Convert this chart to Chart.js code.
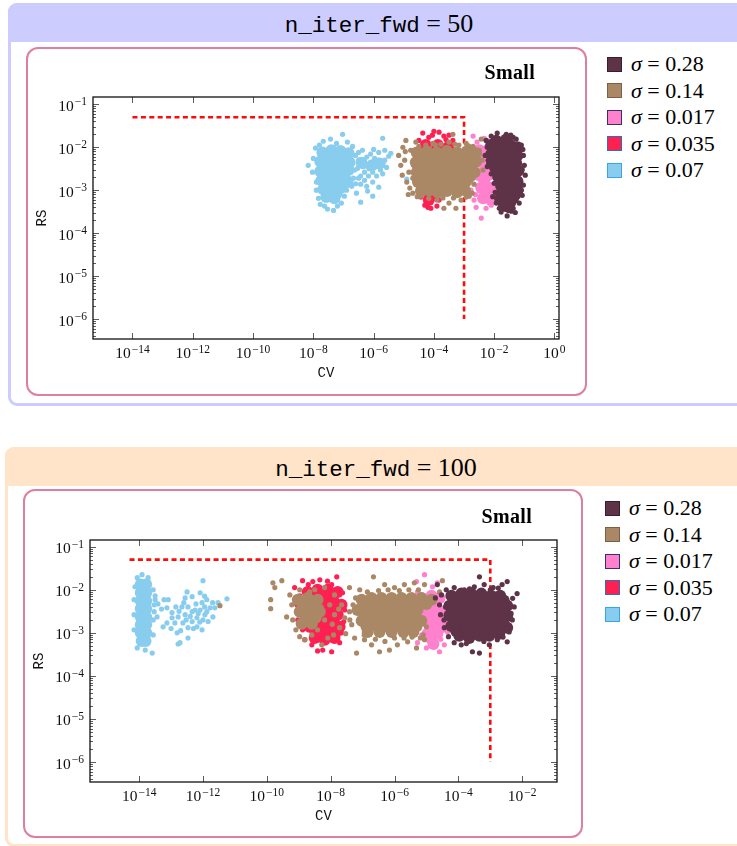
<!DOCTYPE html>
<html lang="en">
<head>
<meta charset="utf-8">
<title>RS vs CV</title>
<script src="https://cdn.jsdelivr.net/npm/chart.js@4.4.1/dist/chart.umd.min.js"></script>
<style>
  html, body { margin: 0; padding: 0; background: #fff; }
  body { position: relative; width: 737px; height: 846px; overflow: hidden; font-family: "Liberation Serif", "DejaVu Serif", serif; color: #000; }
  .frame { position: absolute; box-sizing: border-box; border: 3px solid; border-radius: 9px; width: 742px; }
  .frame .head { position: absolute; left: -3px; right: -3px; top: -3px; height: 39px; border-radius: 9px 9px 0 0; text-align: center; font-size: 26px; line-height: 41px; }
  .tt { font-family: "Liberation Mono", "DejaVu Sans Mono", monospace; font-size: 22.5px; }
  .eq { margin: 0 0.25em; }
  .inner { position: absolute; box-sizing: border-box; border: 2.5px solid #df7f9f; border-radius: 12px; }
  canvas { position: absolute; }
  .tag { position: absolute; width: 100px; text-align: right; font-weight: bold; font-size: 20px; letter-spacing: 0.3px; line-height: 20px; }
  .legend { position: absolute; font-size: 22px; }
  .legend .item { height: 26.5px; display: flex; align-items: center; white-space: nowrap; }
  .legend .sw { display: inline-block; box-sizing: border-box; width: 15px; height: 15px; border: 1.5px solid; margin-right: 9px; }
</style>
</head>
<body>

<div class="frame" style="left:8px;top:3px;height:403px;border-color:#ccccff">
  <div class="head" style="background:#ccccff"><span class="tt">n_iter_fwd</span><span class="eq">=</span><span id="iterA"></span></div>
</div>
<div class="inner" style="left:26px;top:47px;width:561px;height:349px"></div>
<canvas id="chartA" width="550" height="340" style="left:30px;top:52px"></canvas>
<div class="tag" id="tagA" style="left:435px;top:62px"></div>
<div class="legend" id="legendA" style="left:607px;top:51px"></div>

<div class="frame" style="left:5px;top:447px;height:400px;border-color:#ffe4c9">
  <div class="head" style="background:#ffe4c9"><span class="tt">n_iter_fwd</span><span class="eq">=</span><span id="iterB"></span></div>
</div>
<div class="inner" style="left:23px;top:489px;width:560px;height:349px"></div>
<canvas id="chartB" width="550" height="340" style="left:27px;top:494px"></canvas>
<div class="tag" id="tagB" style="left:432px;top:506px"></div>
<div class="legend" id="legendB" style="left:605px;top:495px"></div>

<script>
// noise levels, in legend order (first one is drawn on top)
const sigmas = ['0.28', '0.14', '0.017', '0.035', '0.07'];
const sigmaFill = ['#5e3347', '#aa8866', '#ff80cc', '#ff2052', '#88ccee'];
const sigmaEdge = ['#3a1e2c', '#7d5f45', '#36306e', '#2f6fb5', '#36a6e6'];

const iterCounts = [50, 100];
const sizeTag = 'Small';
const xTitle = 'CV';
const yTitle = 'RS';

// axis ticks, as powers of ten
const xTicksA = [-14, -12, -10, -8, -6, -4, -2, 0];
const xTicksB = [-14, -12, -10, -8, -6, -4, -2];
const yTicks = [-6, -5, -4, -3, -2, -1];

// acceptance limit (dashed)
const limitCvA = [1e-14, 1e-3, 1e-3];
const limitRsA = [0.05, 0.05, 1e-6];
const limitCvB = [5e-15, 1e-3, 1e-3];
const limitRsB = [0.05, 0.05, 1e-6];

// runs as [log10 CV, log10 RS]; "dense" entries stand for the packed middle of each cloud
// n_iter_fwd = 50
const a028Dense = [[-2.10,-1.95],[-1.77,-1.91],[-1.47,-1.95],[-1.23,-2.00],[-2.10,-2.16],[-1.83,-2.16],[-1.53,-2.16],[-1.23,-2.19],
  [-2.07,-2.37],[-1.83,-2.37],[-1.57,-2.37],[-1.27,-2.37],[-1.90,-2.58],[-1.60,-2.58],[-1.30,-2.58],[-1.20,-2.55],
  [-1.80,-2.79],[-1.50,-2.79],[-1.23,-2.79],[-1.73,-3.00],[-1.43,-3.00],[-1.23,-3.00],[-1.80,-3.21],[-1.57,-3.21],[-1.37,-3.19],[-1.63,-3.37],
  [-1.95,-2.06],[-1.65,-2.06],[-1.37,-2.06],[-1.95,-2.27],[-1.67,-2.27],[-1.40,-2.27],[-1.97,-2.48],[-1.70,-2.48],[-1.43,-2.48],
  [-1.87,-2.69],[-1.65,-2.69],[-1.37,-2.69],[-1.77,-2.90],[-1.47,-2.90],[-1.33,-2.90],[-1.77,-3.10],[-1.50,-3.10],[-1.30,-3.10],
  [-1.70,-3.29],[-1.47,-3.29],[-1.93,-1.85],[-1.60,-1.82]];
const a028Loose = [[-2.27,-1.84],[-2.10,-1.74],[-1.90,-1.67],[-1.60,-1.70],[-1.37,-1.77],[-1.27,-1.81],[-1.10,-1.95],[-1.03,-2.19],
  [-1.00,-2.42],[-0.97,-2.65],[-1.03,-2.88],[-1.07,-3.12],[-1.17,-3.30],[-1.37,-3.42],[-1.57,-3.60],[-1.83,-3.42],[-1.93,-3.30],
  [-1.97,-3.05],[-2.00,-2.84],[-2.10,-2.62],[-2.23,-2.45],[-2.30,-2.19],[-2.23,-2.00],[-1.43,-3.49],[-1.77,-3.51],
  [-1.05,-2.05],[-1.07,-2.52],[-1.10,-3.00],[-1.30,-3.52],[-1.53,-3.47],[-2.05,-3.15],[-2.20,-2.30],[-1.45,-1.72]];
const a014Dense = [[-4.57,-2.12],[-4.23,-2.10],[-3.90,-2.12],[-3.57,-2.09],[-3.23,-2.12],[-2.90,-2.10],[-2.60,-2.14],
  [-4.60,-2.35],[-4.23,-2.37],[-3.90,-2.33],[-3.57,-2.35],[-3.23,-2.37],[-2.90,-2.35],[-2.60,-2.33],
  [-4.57,-2.58],[-4.25,-2.58],[-3.90,-2.60],[-3.55,-2.58],[-3.23,-2.56],[-2.90,-2.58],[-2.65,-2.58],
  [-4.53,-2.81],[-4.23,-2.81],[-3.90,-2.79],[-3.57,-2.83],[-3.23,-2.81],[-2.93,-2.79],
  [-4.43,-3.02],[-4.17,-3.00],[-3.87,-3.05],[-3.57,-3.02],[-3.23,-3.05],[-2.97,-3.00],
  [-4.40,-2.23],[-4.07,-2.23],[-3.73,-2.21],[-3.40,-2.23],[-3.07,-2.23],[-2.75,-2.23],
  [-4.40,-2.47],[-4.07,-2.47],[-3.73,-2.47],[-3.40,-2.45],[-3.07,-2.47],[-2.75,-2.47],
  [-4.40,-2.70],[-4.07,-2.70],[-3.73,-2.70],[-3.40,-2.70],[-3.07,-2.70],[-2.80,-2.68],
  [-4.30,-2.92],[-4.05,-2.92],[-3.73,-2.92],[-3.40,-2.92],[-3.10,-2.92]];
const a014Loose = [[-5.17,-2.19],[-5.10,-2.42],[-5.03,-2.00],[-4.93,-1.84],[-4.83,-2.58],[-4.90,-2.81],[-4.97,-2.30],[-4.77,-2.07],
  [-4.80,-2.95],[-4.70,-2.72],[-4.70,-3.07],[-4.60,-1.88],[-4.50,-1.98],[-4.27,-1.95],[-4.03,-1.91],[-3.77,-1.93],[-3.50,-1.88],
  [-3.37,-1.70],[-3.17,-1.95],[-2.93,-1.91],[-2.70,-1.98],[-2.43,-1.81],[-2.50,-2.07],[-2.40,-2.30],[-2.37,-2.53],[-2.67,-2.86],
  [-2.73,-3.07],[-4.43,-3.14],[-4.17,-3.19],[-3.90,-3.23],[-3.67,-3.42],[-3.50,-3.30],[-3.27,-3.42],[-3.10,-3.23],[-2.83,-3.14],
  [-2.93,-3.16],[-4.10,-3.07],[-3.03,-3.05],[-5.05,-2.65],[-4.95,-2.10],[-4.85,-3.10],[-3.95,-1.95],[-3.30,-1.93],[-2.85,-1.97],
  [-3.70,-3.18],[-3.35,-3.18],[-4.55,-3.15]];
const a0017Dense = [[-2.50,-2.07],[-2.23,-2.07],[-2.43,-2.35],[-2.17,-2.35],[-2.50,-2.65],[-2.20,-2.65],[-2.43,-2.95],[-2.13,-2.95],[-2.37,-3.19],[-2.10,-3.23],
  [-2.35,-2.21],[-2.30,-2.50],[-2.33,-2.80],[-2.28,-3.08]];
const a0017Loose = [[-2.70,-1.74],[-2.33,-1.79],[-2.57,-1.88],[-2.83,-2.72],[-2.77,-3.00],[-2.67,-3.23],[-2.60,-3.40],[-2.43,-3.65],
  [-2.27,-3.42],[-2.10,-3.35],[-1.93,-3.14],[-2.00,-2.88],[-2.62,-3.10],[-2.55,-2.90],[-2.20,-1.85]];
const a0035Dense = [[-4.27,-1.95],[-3.87,-1.95],[-3.53,-2.00],[-4.37,-2.30],[-3.93,-2.30],[-3.53,-2.30],[-4.43,-2.65],[-4.03,-2.65],
  [-3.63,-2.65],[-4.30,-3.00],[-3.97,-3.05],[-4.17,-3.23],
  [-4.07,-2.12],[-3.72,-2.14],[-4.15,-2.47],[-3.75,-2.47],[-4.23,-2.83],[-3.83,-2.85],[-4.10,-3.14]];
const a0035Loose = [[-4.50,-1.84],[-4.37,-1.67],[-4.17,-1.77],[-4.00,-1.63],[-3.83,-1.65],[-3.67,-1.74],[-3.50,-1.72],[-3.37,-1.84],
  [-4.63,-2.07],[-4.67,-2.42],[-4.60,-2.77],[-4.50,-2.95],[-4.43,-3.16],[-4.30,-3.35],[-4.10,-3.42],[-3.90,-3.37],[-3.83,-3.23],
  [-3.77,-3.09],[-4.57,-2.58],[-4.05,-1.72],[-3.60,-1.82],[-4.20,-3.40]];
const a007Dense = [[-7.70,-2.12],[-7.40,-2.07],[-7.10,-2.09],[-6.83,-2.14],[-7.77,-2.33],[-7.43,-2.35],[-7.10,-2.30],[-6.80,-2.35],
  [-7.77,-2.56],[-7.47,-2.53],[-7.13,-2.56],[-6.83,-2.53],[-7.73,-2.77],[-7.43,-2.77],[-7.13,-2.74],[-6.87,-2.79],
  [-7.67,-2.98],[-7.40,-3.00],[-7.10,-2.95],[-7.57,-3.16],[-7.30,-3.19],
  [-7.57,-2.22],[-7.27,-2.22],[-6.97,-2.22],[-7.60,-2.44],[-7.27,-2.44],[-6.97,-2.44],[-7.60,-2.66],[-7.30,-2.66],[-7.00,-2.66],
  [-7.57,-2.87],[-7.27,-2.87],[-6.99,-2.87],[-7.50,-3.08],[-7.23,-3.08],
  [-6.40,-2.36],[-6.05,-2.42],[-5.80,-2.38]];
const a007Loose = [[-8.17,-2.42],[-8.00,-2.26],[-8.03,-2.58],[-7.93,-2.02],[-7.90,-2.81],[-7.90,-3.00],[-7.83,-3.19],[-7.77,-3.33],
  [-7.63,-3.37],[-7.53,-3.44],[-7.33,-3.47],[-7.20,-3.37],[-7.07,-3.30],[-6.97,-3.14],[-6.90,-3.00],[-6.73,-2.91],[-6.67,-2.72],
  [-6.63,-2.53],[-6.60,-2.19],[-6.70,-1.98],[-6.87,-1.88],[-7.03,-1.70],[-7.23,-1.91],[-7.43,-1.81],[-7.67,-1.86],[-7.80,-1.95],
  [-6.50,-2.12],[-6.37,-2.07],[-6.23,-2.23],[-6.10,-2.16],[-5.97,-2.26],[-5.83,-2.12],[-5.70,-1.79],[-5.63,-2.30],[-5.50,-2.21],
  [-5.43,-2.14],[-5.57,-2.47],[-5.77,-2.53],[-5.90,-2.44],[-6.03,-2.58],[-6.17,-2.67],[-6.30,-2.77],[-6.43,-2.67],[-6.53,-2.49],
  [-6.43,-2.86],[-6.23,-2.91],[-6.03,-2.81],[-5.83,-2.93],[-6.03,-3.14],[-6.43,-3.28],[-6.57,-3.07],[-5.77,-2.35],[-5.97,-2.42],
  [-6.23,-2.44],[-6.37,-2.35],[-6.50,-2.30],[-6.10,-2.35],[-6.30,-2.58],[-6.50,-2.72],[-5.63,-2.07],[-5.90,-2.67],[-4.90,-2.74],
  [-6.15,-2.50],[-6.35,-2.45],[-5.85,-2.30],[-6.00,-2.05],[-5.70,-2.62],[-6.60,-2.85],[-6.20,-3.02]];

// n_iter_fwd = 100
const b028Dense = [[-4.22,-2.14],[-3.91,-2.09],[-3.59,-2.09],[-3.28,-2.09],[-2.97,-2.14],[-2.69,-2.14],
  [-4.28,-2.37],[-3.97,-2.37],[-3.66,-2.37],[-3.34,-2.37],[-3.03,-2.37],[-2.72,-2.37],[-2.47,-2.37],
  [-4.28,-2.60],[-3.97,-2.60],[-3.66,-2.60],[-3.34,-2.60],[-3.03,-2.60],[-2.72,-2.60],[-2.47,-2.60],
  [-4.22,-2.84],[-3.91,-2.84],[-3.59,-2.84],[-3.28,-2.84],[-2.97,-2.84],[-2.69,-2.84],[-2.47,-2.88],
  [-3.97,-3.07],[-3.66,-3.12],[-3.34,-3.07],[-3.03,-3.07],[-2.72,-3.02],
  [-4.07,-2.25],[-3.75,-2.25],[-3.44,-2.23],[-3.13,-2.25],[-2.83,-2.25],[-2.58,-2.25],
  [-4.10,-2.48],[-3.81,-2.48],[-3.50,-2.48],[-3.19,-2.48],[-2.88,-2.48],[-2.58,-2.48],
  [-4.10,-2.72],[-3.81,-2.72],[-3.50,-2.72],[-3.19,-2.72],[-2.88,-2.72],[-2.58,-2.72],
  [-4.07,-2.96],[-3.81,-2.96],[-3.50,-2.96],[-3.19,-2.96],[-2.88,-2.96]];
const b028Loose = [[-4.66,-1.88],[-4.53,-2.12],[-4.59,-2.35],[-4.56,-2.58],[-4.44,-2.88],[-4.31,-3.09],[-4.13,-3.23],[-3.91,-3.28],
  [-3.56,-3.44],[-3.34,-3.47],[-3.03,-3.28],[-2.78,-3.16],[-2.47,-3.21],[-2.41,-2.98],[-2.31,-2.70],[-2.25,-2.40],[-2.16,-2.09],
  [-2.47,-1.81],[-2.63,-1.88],[-2.91,-1.95],[-3.19,-1.88],[-3.34,-1.70],[-3.50,-1.93],[-3.81,-2.00],[-4.13,-1.95],[-4.38,-2.00],
  [-4.72,-2.19],[-2.30,-2.20],[-2.35,-2.55],[-2.40,-2.85],[-2.60,-3.10],[-3.20,-3.20],[-3.75,-3.25],[-4.40,-2.40],[-4.45,-2.70],
  [-3.00,-2.00],[-3.65,-1.98],[-2.75,-1.96]];
const b014Dense = [[-9.03,-2.23],[-8.72,-2.19],[-8.41,-2.23],[-8.97,-2.51],[-8.66,-2.51],[-8.34,-2.51],[-8.91,-2.79],[-8.59,-2.79],
  [-7.03,-2.23],[-6.72,-2.19],[-6.41,-2.19],[-6.09,-2.19],[-5.78,-2.19],[-5.47,-2.19],[-5.16,-2.19],[-4.84,-2.23],
  [-7.16,-2.47],[-6.84,-2.47],[-6.53,-2.47],[-6.22,-2.47],[-5.91,-2.47],[-5.59,-2.47],[-5.28,-2.47],
  [-7.03,-2.72],[-6.72,-2.72],[-6.41,-2.72],[-6.09,-2.72],[-5.78,-2.72],[-5.47,-2.72],[-5.16,-2.72],
  [-6.84,-2.98],[-6.47,-2.98],[-6.09,-2.98],[-5.72,-2.98],[-5.41,-2.98],
  [-8.88,-2.37],[-8.56,-2.37],[-8.78,-2.65],[-8.47,-2.65],
  [-6.88,-2.33],[-6.56,-2.33],[-6.25,-2.33],[-5.94,-2.33],[-5.63,-2.33],[-5.31,-2.33],[-5.00,-2.33],
  [-6.94,-2.60],[-6.63,-2.60],[-6.31,-2.60],[-6.00,-2.60],[-5.69,-2.60],[-5.38,-2.60],
  [-6.88,-2.85],[-6.56,-2.85],[-6.25,-2.85],[-5.94,-2.85],[-5.63,-2.85],[-5.31,-2.85]];
const b014Loose = [[-9.81,-1.84],[-9.53,-1.79],[-9.75,-1.95],[-9.88,-2.23],[-9.88,-2.44],[-9.38,-2.63],[-9.28,-2.12],[-9.22,-2.35],
  [-9.19,-2.70],[-9.09,-2.93],[-8.97,-3.09],[-8.81,-3.16],[-8.59,-3.05],[-8.41,-2.93],[-8.19,-2.70],[-8.03,-2.35],[-7.88,-2.58],
  [-7.72,-2.88],[-8.09,-3.12],[-8.28,-3.28],[-8.50,-2.00],[-8.19,-1.95],[-7.88,-2.12],[-7.66,-2.35],[-7.56,-2.65],[-7.41,-2.51],
  [-7.34,-2.81],[-7.41,-1.95],[-7.22,-2.19],[-7.25,-3.12],[-7.19,-3.47],[-6.94,-3.16],[-6.72,-3.28],[-6.47,-3.44],[-6.16,-3.40],
  [-5.91,-3.28],[-5.59,-3.21],[-5.31,-3.35],[-5.06,-3.16],[-6.66,-1.70],[-6.31,-1.88],[-6.00,-1.95],[-5.69,-1.88],[-5.38,-1.84],
  [-5.06,-1.88],[-4.50,-1.79],[-4.59,-2.05],[-5.00,-2.86],[-5.10,-3.05],[-5.19,-3.12],[-7.53,-3.02],[-7.09,-2.00],[-7.91,-3.05],
  [-8.66,-2.05],[-8.97,-2.00],[-11.47,-2.37],[-8.30,-2.40],[-7.95,-2.80],[-7.75,-2.45],[-7.30,-2.35],[-7.40,-2.70],[-6.85,-2.05],
  [-6.50,-2.02],[-6.20,-2.00],[-5.85,-2.02],[-5.55,-2.00],[-5.25,-2.00],[-6.95,-3.05],[-6.60,-3.15],[-6.30,-3.20],[-6.00,-3.12],
  [-5.70,-3.12],[-5.45,-3.10]];
const b0017Dense = [[-5.16,-2.19],[-4.84,-2.14],[-4.59,-2.19],[-5.06,-2.47],[-4.75,-2.47],[-4.50,-2.51],[-5.00,-2.74],[-4.69,-2.74],
  [-4.44,-2.74],[-4.97,-3.02],[-4.66,-3.02],[-4.78,-3.26],
  [-5.00,-2.32],[-4.72,-2.32],[-4.90,-2.60],[-4.60,-2.62],[-4.84,-2.88],[-4.55,-2.88],[-4.85,-3.14]];
const b0017Loose = [[-5.31,-1.81],[-5.06,-1.65],[-4.81,-1.93],[-4.66,-1.84],[-5.28,-3.23],[-5.00,-3.35],[-4.59,-3.44],[-4.44,-3.28],
  [-4.34,-2.98],[-5.44,-2.81],[-5.38,-2.47],[-5.28,-2.05],[-5.15,-3.05],[-4.55,-3.15]];
const b0035Dense = [[-8.72,-2.05],[-8.41,-2.00],[-8.09,-2.00],[-7.78,-2.05],[-8.81,-2.30],[-8.50,-2.30],[-8.19,-2.30],[-7.88,-2.30],
  [-7.66,-2.35],[-8.72,-2.58],[-8.41,-2.58],[-8.09,-2.58],[-7.78,-2.58],[-8.66,-2.86],[-8.34,-2.86],[-8.03,-2.86],[-7.72,-2.86],
  [-8.50,-3.12],[-8.19,-3.16],[-7.88,-3.12],
  [-8.56,-2.17],[-8.25,-2.15],[-7.94,-2.17],[-8.62,-2.44],[-8.30,-2.44],[-7.97,-2.44],[-8.56,-2.72],[-8.25,-2.72],[-7.91,-2.72],
  [-8.47,-2.99],[-8.16,-2.99],[-7.84,-2.99]];
const b0035Loose = [[-9.13,-1.95],[-8.88,-1.79],[-8.56,-1.81],[-8.34,-1.77],[-7.97,-1.88],[-7.81,-1.70],[-7.63,-2.07],[-7.56,-2.47],
  [-7.59,-2.74],[-7.66,-3.00],[-7.72,-3.23],[-7.97,-3.44],[-8.25,-3.40],[-8.41,-3.42],[-8.59,-3.28],[-8.81,-3.16],[-8.88,-2.93],
  [-9.03,-2.70],[-9.06,-2.35],[-8.97,-2.14],[-8.10,-1.80],[-8.70,-1.88]];
const b007Dense = [[-13.95,-1.88],[-13.78,-1.88],[-13.95,-2.07],[-13.78,-2.07],[-13.95,-2.26],[-13.78,-2.26],[-13.95,-2.44],[-13.78,-2.44],
  [-13.95,-2.63],[-13.78,-2.63],[-13.95,-2.81],[-13.78,-2.81],[-13.95,-3.00],[-13.78,-3.00],[-13.92,-3.19],[-13.80,-3.19]];
const b007Loose = [[-14.06,-1.72],[-13.72,-1.72],[-14.13,-1.93],[-13.56,-2.00],[-14.16,-2.23],[-13.53,-2.35],[-14.16,-2.58],[-13.56,-2.70],
  [-14.16,-2.93],[-13.56,-3.05],[-14.06,-3.35],[-13.81,-3.40],[-13.59,-3.47],[-13.53,-2.51],[-13.50,-2.14],[-13.91,-1.65],
  [-12.00,-1.79],[-11.25,-2.21],[-11.69,-2.63],[-12.03,-2.93],[-12.47,-3.12],[-12.78,-3.26],[-12.81,-3.00],[-13.22,-2.23],
  [-13.09,-2.23],[-13.41,-2.33],[-13.44,-2.63],[-13.25,-2.86],[-13.13,-2.77],[-12.56,-2.19],[-12.34,-2.16],[-12.09,-2.07],
  [-11.88,-2.23],[-11.78,-2.42],[-11.63,-2.42],[-12.09,-2.47],[-12.34,-2.51],[-12.56,-2.58],[-12.78,-2.63],[-12.97,-2.65],
  [-12.88,-2.77],[-12.63,-2.77],[-12.34,-2.74],[-12.19,-2.65],[-11.94,-2.58],[-12.03,-2.30],[-12.47,-2.40],[-12.66,-2.40],
  [-12.97,-2.53],[-13.13,-2.42],[-12.00,-2.70],[-12.47,-2.88],[-12.19,-2.86],[-11.88,-2.51],[-11.84,-2.74],[-11.53,-2.30],
  [-12.72,-3.23],[-13.50,-2.23],[-12.22,-2.33],[-12.53,-2.70],[-12.25,-2.47],
  [-12.75,-2.50],[-12.40,-2.62],[-12.15,-2.55],[-11.95,-2.40],[-12.60,-2.30],[-12.85,-2.40],[-12.30,-2.90],[-12.10,-2.75],
  [-11.70,-2.30],[-11.95,-2.15],[-12.50,-2.05],[-13.00,-2.90],[-13.30,-2.45],[-12.70,-2.95]];

const toPoints = pairs => pairs.map(([cv, rs]) => ({ x: 10 ** cv, y: 10 ** rs }));

// frame, inward ticks and 10^n labels, pgfplots style
const frameAxes = {
  id: 'frameAxes',
  afterDraw(chart, args, opts) {
    const { ctx, chartArea: a } = chart;
    const xs = chart.scales.x, ys = chart.scales.y;
    ctx.save();

    ctx.strokeStyle = '#333';
    ctx.lineWidth = 0.8;
    ctx.beginPath();
    for (let k = -8; k <= 0; k++) {
      for (let m = 2; m <= 9; m++) {
        const v = m * 10 ** k;
        if (v <= ys.min || v >= ys.max) continue;
        const py = Math.round(ys.getPixelForValue(v)) + 0.5;
        ctx.moveTo(a.left, py); ctx.lineTo(a.left + 3, py);
        ctx.moveTo(a.right, py); ctx.lineTo(a.right - 3, py);
      }
    }
    yTicks.forEach(e => {
      const py = Math.round(ys.getPixelForValue(10 ** e)) + 0.5;
      ctx.moveTo(a.left, py); ctx.lineTo(a.left + 6, py);
      ctx.moveTo(a.right, py); ctx.lineTo(a.right - 6, py);
    });
    opts.xTicks.forEach(e => {
      const px = Math.round(xs.getPixelForValue(10 ** e)) + 0.5;
      ctx.moveTo(px, a.bottom); ctx.lineTo(px, a.bottom - 6);
      ctx.moveTo(px, a.top); ctx.lineTo(px, a.top + 6);
    });
    ctx.stroke();

    ctx.strokeStyle = '#111';
    ctx.lineWidth = 1.3;
    ctx.strokeRect(a.left, a.top, a.right - a.left, a.bottom - a.top);

    ctx.fillStyle = '#111';
    ctx.textBaseline = 'alphabetic';
    ctx.textAlign = 'left';
    const power = (e, x, y, align) => {
      const sup = e === 0 ? '0' : '\u2212' + Math.abs(e);
      ctx.font = '15.5px "Liberation Serif"';
      const wb = ctx.measureText('10').width;
      ctx.font = '11.5px "Liberation Serif"';
      const ws = ctx.measureText(sup).width;
      const w = wb + 1 + ws;
      const left = align === 'right' ? x - w : x - w / 2;
      ctx.font = '15.5px "Liberation Serif"';
      ctx.fillText('10', left, y);
      ctx.font = '11.5px "Liberation Serif"';
      ctx.fillText(sup, left + wb + 1, y - 5.5);
    };
    yTicks.forEach(e => power(e, a.left - 6, ys.getPixelForValue(10 ** e) + 6.5, 'right'));
    opts.xTicks.forEach(e => power(e, xs.getPixelForValue(10 ** e), a.bottom + 19, 'center'));

    ctx.font = '14px "Liberation Mono"';
    ctx.textAlign = 'center';
    ctx.textBaseline = 'middle';
    ctx.fillText(xTitle, (a.left + a.right) / 2, a.bottom + 34);
    ctx.translate(a.left - 51, (a.top + a.bottom) / 2);
    ctx.rotate(-Math.PI / 2);
    ctx.fillText(yTitle, 0, 0);
    ctx.restore();
  }
};

function drawPanel(canvasId, p) {
  const datasets = [];
  sigmas.forEach((s, i) => {
    datasets.push({ label: 'σ = ' + s, data: toPoints(p.loose[i]), backgroundColor: sigmaFill[i], pointRadius: 2.6 });
    datasets.push({ label: 'σ = ' + s, data: toPoints(p.dense[i]), backgroundColor: sigmaFill[i], pointRadius: 6 });
  });
  datasets.forEach(d => { d.pointBorderWidth = 0; d.pointHoverRadius = d.pointRadius; });
  // limit goes last so it sits under the clouds
  datasets.push({
    type: 'line',
    data: p.limitCv.map((c, i) => ({ x: c, y: p.limitRs[i] })),
    borderColor: '#ff0a0a', borderWidth: 2.6, borderDash: [5, 3.4],
    pointRadius: 0, fill: false, tension: 0
  });

  return new Chart(document.getElementById(canvasId), {
    type: 'scatter',
    data: { datasets },
    options: {
      responsive: false,
      animation: false,
      events: [],
      layout: { padding: { top: p.padTop, right: p.padRight, bottom: 0, left: 0 } },
      plugins: { legend: { display: false }, tooltip: { enabled: false }, frameAxes: { xTicks: p.xTicks } },
      scales: {
        x: {
          type: 'logarithmic', bounds: 'data',
          min: 10 ** p.xRange[0], max: 10 ** p.xRange[1],
          ticks: { display: false }, grid: { display: false }, border: { display: false },
          afterFit: s => { s.height = p.xHeight; }
        },
        y: {
          type: 'logarithmic', bounds: 'data',
          min: 10 ** p.yRange[0], max: 10 ** p.yRange[1],
          ticks: { display: false }, grid: { display: false }, border: { display: false },
          afterFit: s => { s.width = 63; }
        }
      }
    },
    plugins: [frameAxes]
  });
}

function fillLegend(id) {
  const box = document.getElementById(id);
  sigmas.forEach((s, i) => {
    const row = document.createElement('div');
    row.className = 'item';
    row.innerHTML = '<span class="sw" style="background:' + sigmaFill[i] + ';border-color:' + sigmaEdge[i] + '"></span>' +
      '<i>σ</i><span class="eq">=</span>' + s;
    box.appendChild(row);
  });
}

document.getElementById('iterA').textContent = iterCounts[0];
document.getElementById('iterB').textContent = iterCounts[1];
document.getElementById('tagA').textContent = sizeTag;
document.getElementById('tagB').textContent = sizeTag;
fillLegend('legendA');
fillLegend('legendB');

drawPanel('chartA', {
  dense: [a028Dense, a014Dense, a0017Dense, a0035Dense, a007Dense],
  loose: [a028Loose, a014Loose, a0017Loose, a0035Loose, a007Loose],
  limitCv: limitCvA, limitRs: limitRsA, xTicks: xTicksA,
  xRange: [-15.31, 0.15], yRange: [-6.465, -0.83],
  padTop: 45, padRight: 21, xHeight: 53
});
drawPanel('chartB', {
  dense: [b028Dense, b014Dense, b0017Dense, b0035Dense, b007Dense],
  loose: [b028Loose, b014Loose, b0017Loose, b0035Loose, b007Loose],
  limitCv: limitCvB, limitRs: limitRsB, xTicks: xTicksB,
  xRange: [-15.54, -0.91], yRange: [-6.464, -0.845],
  padTop: 46, padRight: 20, xHeight: 52
});
</script>
</body>
</html>
